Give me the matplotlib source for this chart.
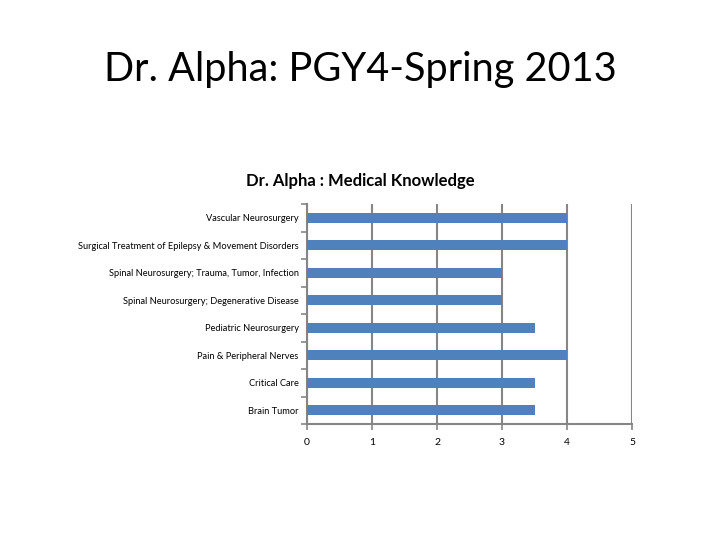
import matplotlib
matplotlib.use("Agg")
import matplotlib.pyplot as plt
import numpy as np

plt.rcParams["font.family"] = ["Lato", "DejaVu Sans"]

# categories listed bottom to top as drawn
categories = [
    "Brain Tumor",
    "Critical Care",
    "Pain & Peripheral Nerves",
    "Pediatric Neurosurgery",
    "Spinal Neurosurgery; Degenerative Disease",
    "Spinal Neurosurgery; Trauma, Tumor, Infection",
    "Surgical Treatment of Epilepsy & Movement Disorders",
    "Vascular Neurosurgery",
]
scores = [3.5, 3.5, 4, 3.5, 3, 3, 4, 4]
x_ticks = [0, 1, 2, 3, 4, 5]

BAR = "#4F81BD"
GRID = "#868686"

fig = plt.figure(figsize=(7.2, 5.4), dpi=100)
fig.text(0.5, 0.872, "Dr. Alpha: PGY4-Spring 2013", ha="center", va="center",
         fontsize=28.5)
fig.text(0.5, 0.664, "Dr. Alpha : Medical Knowledge", ha="center", va="center",
         fontsize=12, fontweight="bold")

ax = fig.add_axes([0.4264, 0.2148, 0.4514, 0.4074])
y = np.arange(len(categories))
ax.barh(y, scores, height=0.36, color=BAR, zorder=3)
ax.set_xlim(0, 5)
ax.set_ylim(-0.5, len(categories) - 0.5)
ax.set_xticks(x_ticks)
ax.set_xticklabels([str(t) for t in x_ticks], fontsize=7.5)
ax.set_yticks(y)
ax.set_yticklabels(categories, fontsize=6.7)
ax.set_yticks(np.arange(-0.5, len(categories)), minor=True)
ax.tick_params(axis="y", which="major", length=0, pad=6)
ax.tick_params(axis="y", which="minor", length=4, color=GRID, width=1.2)
ax.tick_params(axis="x", length=4, color=GRID, width=1.2, pad=6)
ax.grid(axis="x", color=GRID, linewidth=1.5, zorder=0)
for s in ["top", "right"]:
    ax.spines[s].set_visible(False)
for s in ["left", "bottom"]:
    ax.spines[s].set_color(GRID)
    ax.spines[s].set_linewidth(1.5)

plt.savefig("out.png", dpi=100)
plt.close()
